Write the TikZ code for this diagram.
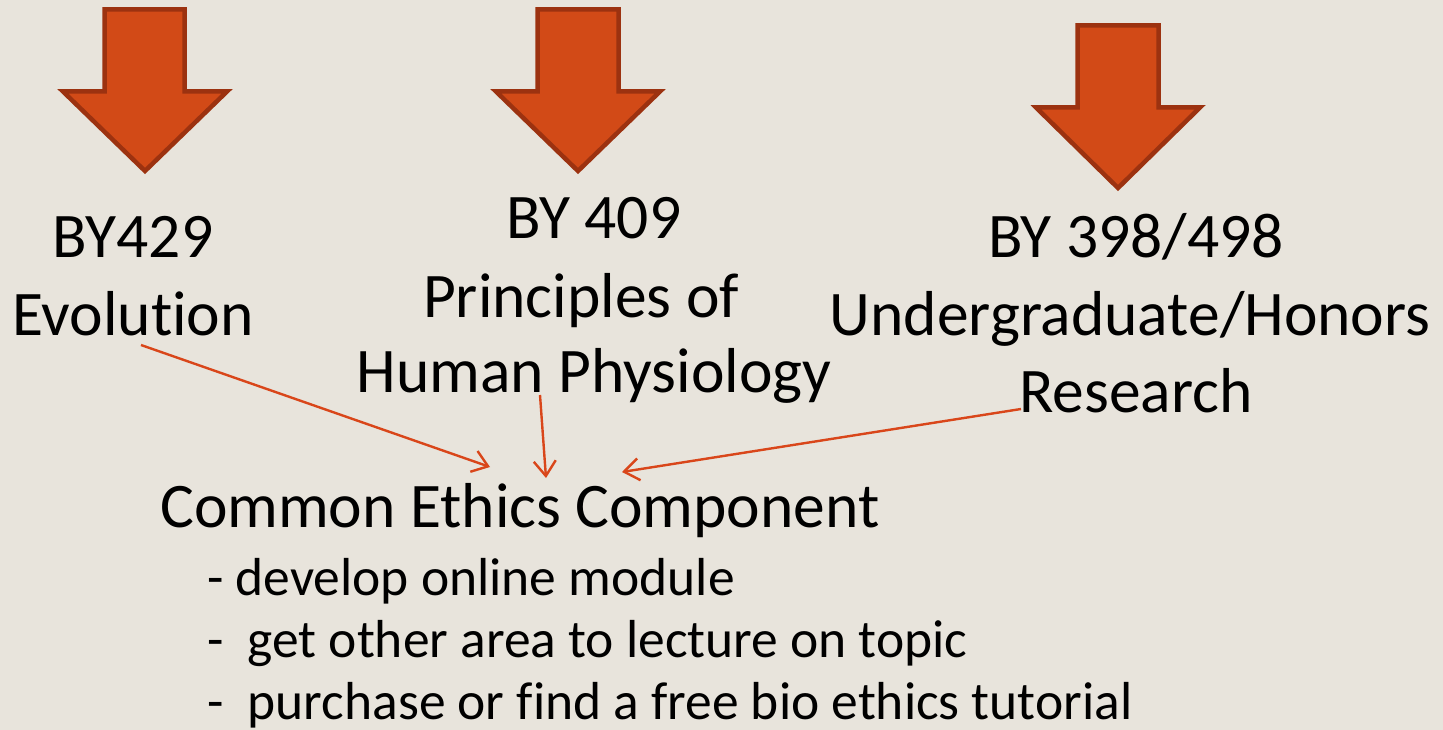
\documentclass[tikz,border=0pt]{standalone}
\usepackage{fontspec}
\setmainfont{Carlito}[Ligatures={NoCommon,NoRequired,NoContextual}]
\usetikzlibrary{arrows.meta}
\definecolor{bg}{HTML}{E8E4DC}
\definecolor{arrfill}{HTML}{D24A17}
\definecolor{arrline}{HTML}{9C3210}
\definecolor{thin}{HTML}{D9461A}
\tikzset{
  bigarrow/.style={fill=arrfill, draw=arrline, line width=4.5pt, line join=miter},
  big/.style={inner sep=0pt, anchor=base, font=\fontsize{63.5}{77}\selectfont},
  small/.style={inner sep=0pt, anchor=base west, font=\fontsize{53.5}{62}\selectfont},
  link/.style={draw=thin, line width=2.4pt, -{Straight Barb[length=15pt,width=22pt,line width=2.4pt]}}
}
\begin{document}
\begin{tikzpicture}[x=1pt,y=-1pt]
\fill[bg] (0,0) rectangle (1443,730);
\useasboundingbox (0,0) rectangle (1443,730);
% block arrows
\draw[bigarrow] (104.5,9.5) -- (184.5,9.5) -- (184.5,91.5) -- (227,91.5) -- (145,171) -- (63,91.5) -- (104.5,91.5) -- cycle;
\draw[bigarrow] (537.5,9.5) -- (618.5,9.5) -- (618.5,91.5) -- (660,91.5) -- (578,171) -- (496,91.5) -- (537.5,91.5) -- cycle;
\draw[bigarrow] (1077.5,25.5) -- (1158.5,25.5) -- (1158.5,107.5) -- (1200,107.5) -- (1118,188) -- (1036,107.5) -- (1077.5,107.5) -- cycle;
% course texts
\node[big] (c1a) at (133,258) {BY429};
\node[big] (c1b) at (133,335) {Evolution};
\node[big] (c2a) at (594,239) {BY 409};
\node[big] (c2b) at (581,317) {Principles of};
\node[big] (c2c) at (594,392) {Human Physiology};
\node[big] (c3a) at (1136,258) {BY 398/498};
\node[big] (c3b) at (1130,335) {Undergraduate/Honors};
\node[big] (c3c) at (1136,412) {Research};
% common component
\node[big, anchor=base west] (common) at (160,527) {Common Ethics Component};
\node[small] (b1) at (207,595) {- develop online module};
\node[small] (b2) at (207,657) {-\ \ get other area to lecture on topic};
\node[small] (b3) at (207,719) {-\ \ purchase or find a free bio ethics tutorial};
% connectors
\coordinate (s1) at (141,345);
\coordinate (t1) at (490,467);
\coordinate (s2) at (540,395);
\coordinate (t2) at (546,478);
\coordinate (s3) at (1021,409);
\coordinate (t3) at (622,472);
\draw[link] (s1) -- (t1);
\draw[link] (s2) -- (t2);
\draw[link] (s3) -- (t3);
\end{tikzpicture}
\end{document}
